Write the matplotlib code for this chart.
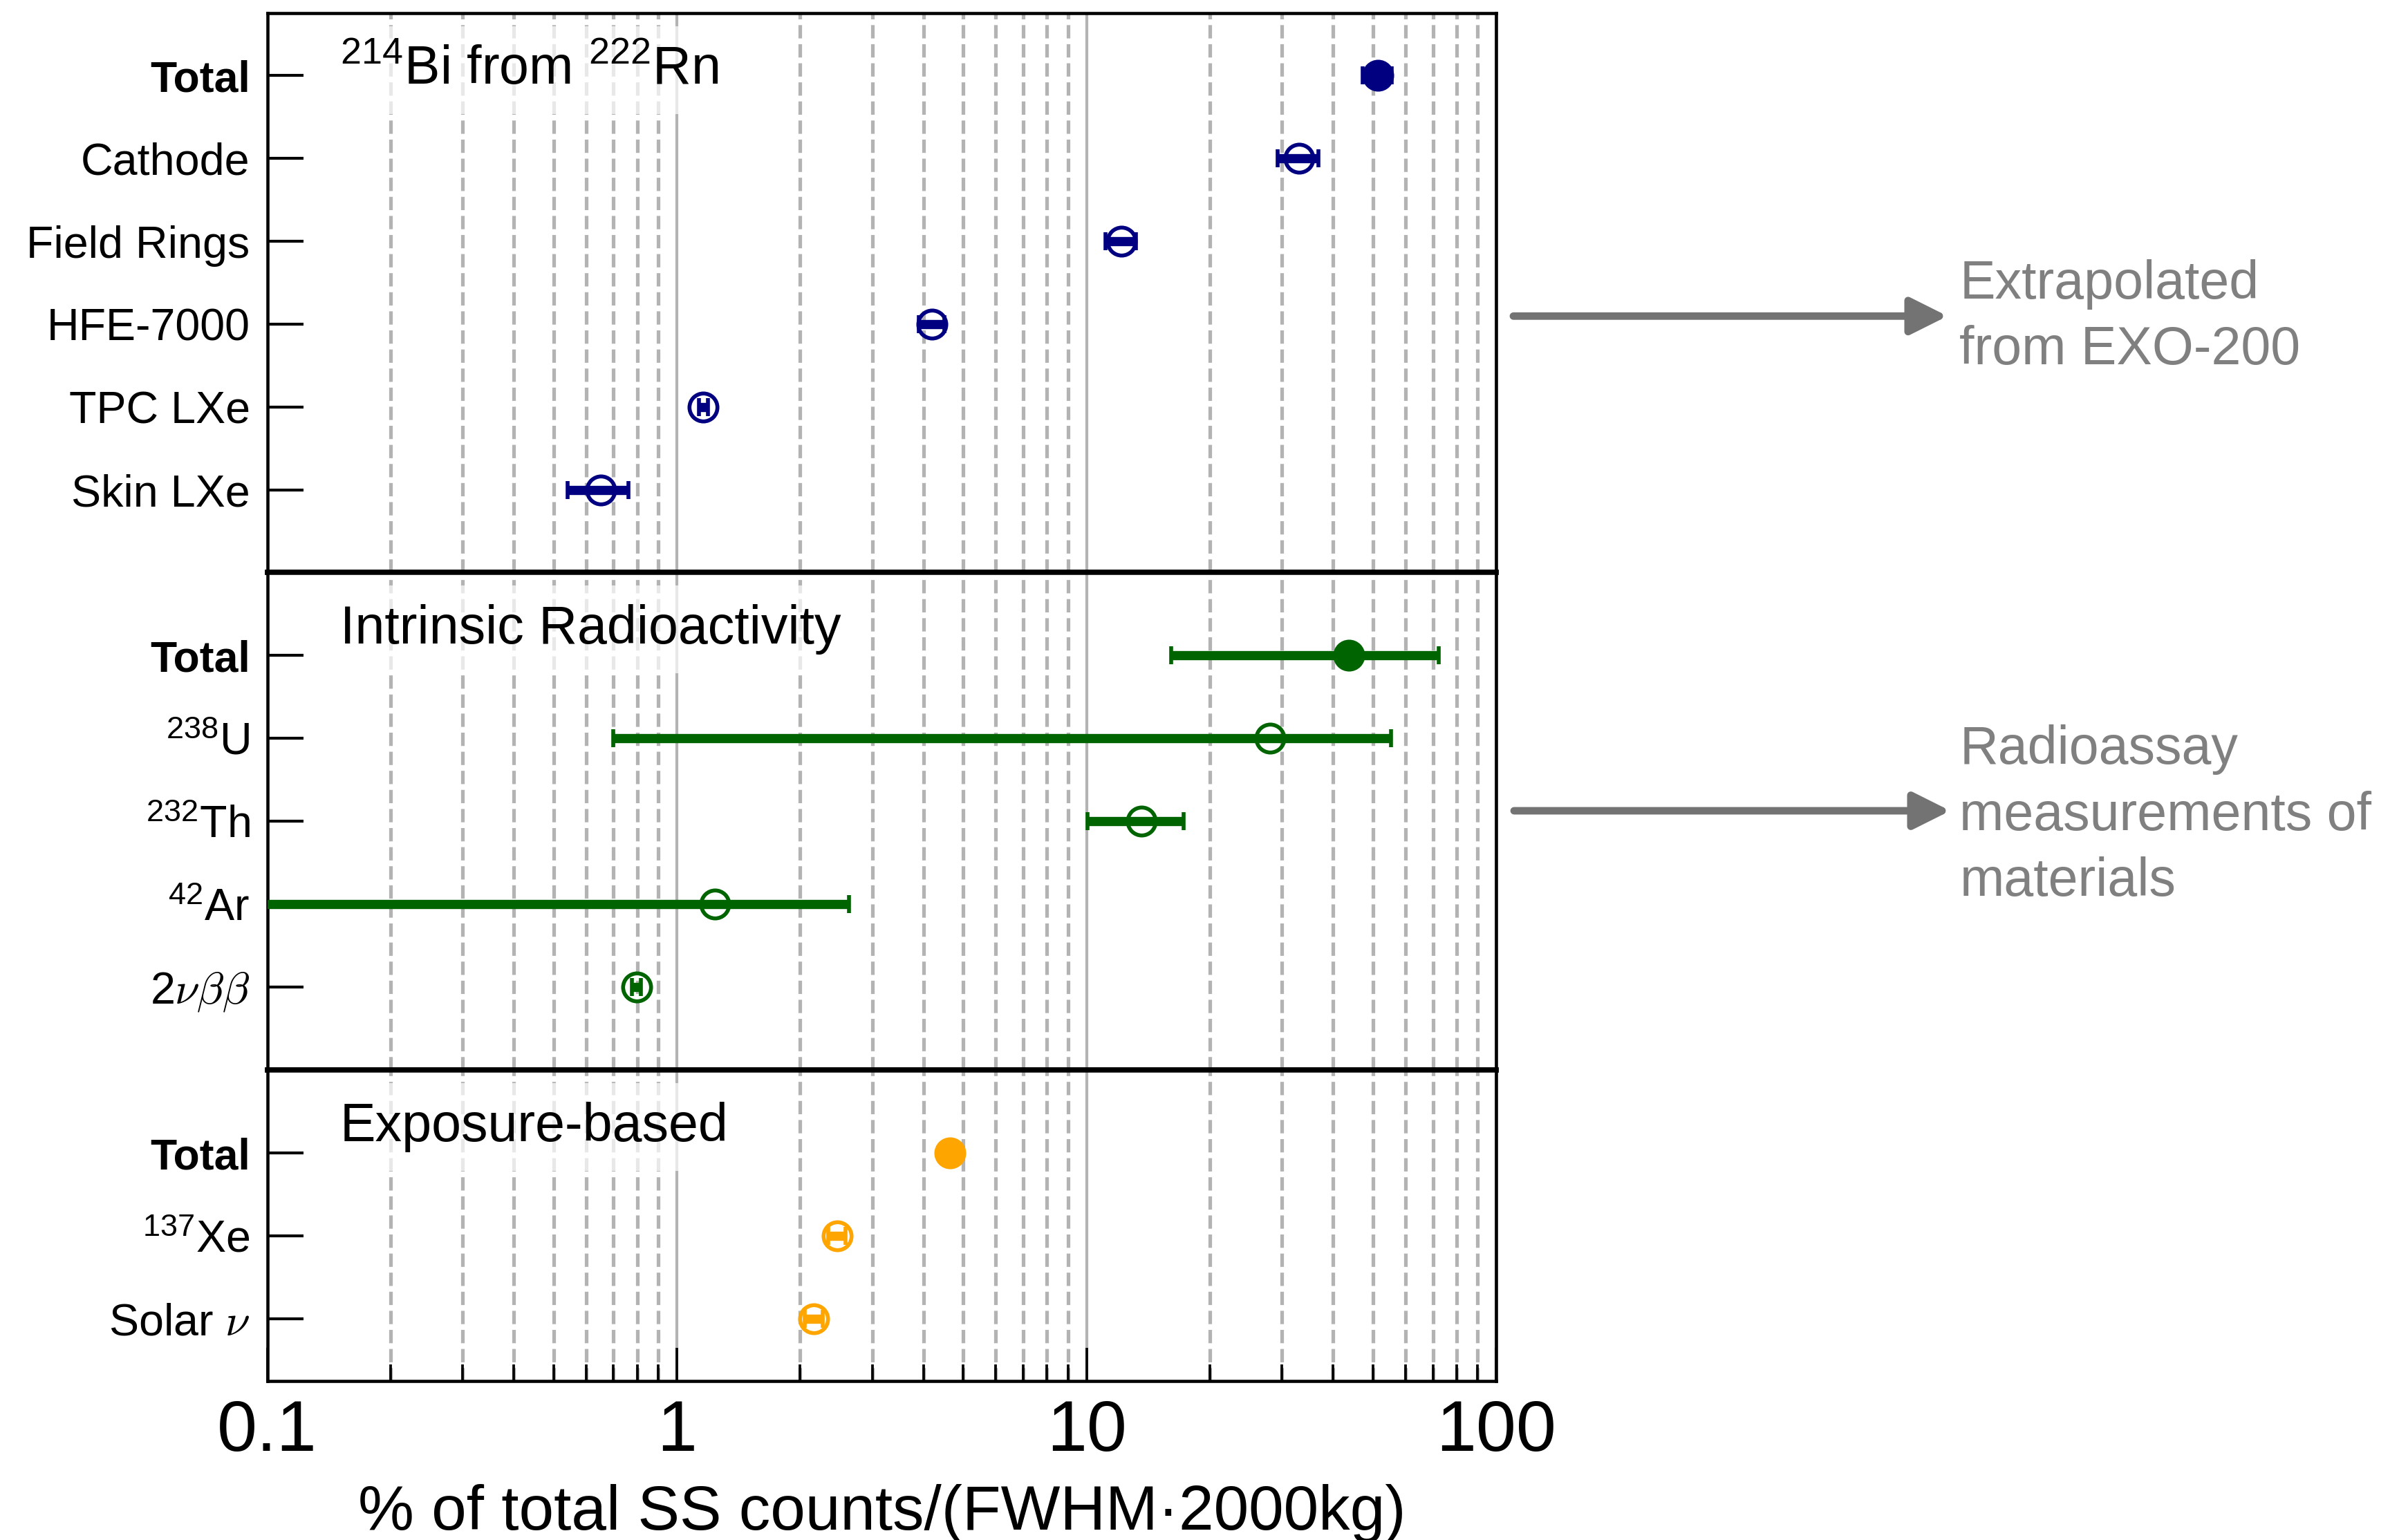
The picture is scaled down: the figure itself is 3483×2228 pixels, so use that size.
import numpy as np
import matplotlib
matplotlib.use('Agg')
import matplotlib.pyplot as plt
from matplotlib.patches import FancyArrowPatch
from matplotlib.ticker import LogLocator, NullFormatter

plt.rcParams['font.family'] = ['Liberation Sans', 'DejaVu Sans']
plt.rcParams['mathtext.fontset'] = 'custom'
plt.rcParams['mathtext.rm'] = 'Liberation Sans'
plt.rcParams['mathtext.it'] = 'Liberation Sans:italic'
plt.rcParams['mathtext.bf'] = 'Liberation Sans:bold'

# ---------------- data ----------------
rn_labels = ['Total', 'Cathode', 'Field Rings', 'HFE-7000', 'TPC LXe', 'Skin LXe']
rn_values = [51.4, 33.05, 12.16, 4.19, 1.16, 0.652]
rn_err_low = [4.2, 3.8, 1.05, 0.30, 0.03, 0.11]
rn_err_high = [4.2, 3.8, 1.05, 0.30, 0.03, 0.11]

intr_labels = ['Total', r'$^{238}$U', r'$^{232}$Th', r'$^{42}$Ar', r'2$\nu\beta\beta$']
intr_values = [43.6, 28.0, 13.6, 1.24, 0.797]
intr_err_low = [27.5, 27.3, 3.55, 1.39, 0.02]
intr_err_high = [28.8, 27.4, 3.65, 1.39, 0.02]

exp_labels = ['Total', r'$^{137}$Xe', r'Solar $\nu$']
exp_values = [4.63, 2.46, 2.16]
exp_err_low = [0.1, 0.12, 0.11]
exp_err_high = [0.1, 0.12, 0.11]

panel_titles = [r'$^{214}$Bi from $^{222}$Rn', 'Intrinsic Radioactivity', 'Exposure-based']
panel_colors = ['#000080', '#006400', '#FFA500']

xticks = [0.1, 1, 10, 100]
xticklabels = ['0.1', '1', '10', '100']
xlabel = '% of total SS counts/(FWHM\u00b72000kg)'

note_texts = ['Extrapolated\nfrom EXO-200', 'Radioassay\nmeasurements of\nmaterials']

# ---------------- figure ----------------
fig = plt.figure(figsize=(3483 / 300, 2228 / 300), dpi=300)
left, right = 386.5 / 3483, 2164.3 / 3483
top, bottom = 1 - 19.3 / 2228, 1 - 1998 / 2228
ylims = [(5.99, -0.75), (5.0, -1.0), (2.75, -1.0)]
ratios = [a - b for a, b in ylims]
gs = fig.add_gridspec(3, 1, height_ratios=ratios, hspace=0,
                      left=left, right=right, top=top, bottom=bottom)

panels = [
    (rn_labels, rn_values, rn_err_low, rn_err_high),
    (intr_labels, intr_values, intr_err_low, intr_err_high),
    (exp_labels, exp_values, exp_err_low, exp_err_high),
]

axes = []
for k, (labels, values, elo, ehi) in enumerate(panels):
    ax = fig.add_subplot(gs[k])
    axes.append(ax)
    ax.set_xscale('log')
    color = panel_colors[k]
    ypos = np.arange(len(labels))
    for i, v in enumerate(values):
        ax.errorbar(v, ypos[i], xerr=[[elo[i]], [ehi[i]]], fmt='o', color=color,
                    ms=9.7, mew=1.35, mec=color,
                    mfc=color if i == 0 else 'none',
                    elinewidth=3.2, capsize=3.1, capthick=3.0, zorder=4)
    ax.set_xlim(0.1, 100)
    ax.set_ylim(*ylims[k])
    ax.set_yticks(ypos, labels=labels)
    ax.xaxis.set_minor_locator(LogLocator(base=10, subs=np.arange(2, 10), numticks=20))
    ax.xaxis.set_minor_formatter(NullFormatter())
    ax.set_xticks(xticks, labels=xticklabels)
    ax.grid(which='minor', axis='x', ls=(0, (3.7, 1.6)), lw=1.25, color='#b3b3b3', zorder=0)
    ax.grid(which='major', axis='x', ls='-', lw=1.0, color='#b3b3b3', zorder=0)
    ax.set_axisbelow(True)
    ax.tick_params(axis='y', which='major', direction='in', length=12.5, width=1.0,
                   pad=6, labelsize=15.5, right=False, color='black')
    ax.tick_params(axis='y', which='minor', left=False, right=False)
    for sp in ax.spines.values():
        sp.set_linewidth(1.1)
    if k < 2:
        ax.tick_params(axis='x', which='both', bottom=False, top=False, labelbottom=False)
        ax.spines['bottom'].set_linewidth(1.8)
    else:
        ax.tick_params(axis='x', which='major', direction='in', length=11.5, width=0.9,
                       pad=6.2, labelsize=25, top=False)
        ax.tick_params(axis='x', which='minor', direction='in', length=5.8, width=0.9,
                       top=False)
    if k > 0:
        ax.spines['top'].set_linewidth(1.8)
    for j, lbl in enumerate(ax.get_yticklabels()):
        if j == 0:
            lbl.set_fontweight('bold')
            lbl.set_fontsize(15)
        if '\\nu' in lbl.get_text():
            lbl.set_math_fontfamily('cm')
    ax.annotate(panel_titles[k], xy=(0.0594, 1.0), xycoords='axes fraction',
                xytext=(0, -24.7), textcoords='offset points', fontsize=18.5,
                ha='left', va='baseline', zorder=3,
                bbox=dict(boxstyle='square,pad=0.35', fc='white', ec='none', alpha=0.7))

fig.text(0.3662, 0.0067, xlabel, fontsize=21.8, ha='center', va='baseline')

# ---------------- annotations ----------------
arrow_y = [1 - 457.3 / 2228, 1 - 1173 / 2228]
arrow_x0 = [2189 / 3483, 2190 / 3483]
arrow_x1 = [2817 / 3483, 2821 / 3483]
text_y = [1 - 459 / 2228, 1 - 1180 / 2228]
for n in range(2):
    arr = FancyArrowPatch((arrow_x0[n], arrow_y[n]), (arrow_x1[n], arrow_y[n]),
                          transform=fig.transFigure, arrowstyle='-|>',
                          mutation_scale=27, lw=2.6, color='#737373',
                          shrinkA=0, shrinkB=0)
    fig.add_artist(arr)
    fig.text(2834.5 / 3483, text_y[n], note_texts[n], color='#808080', fontsize=18.5,
             ha='left', va='center', linespacing=1.395,
             family=['Liberation Sans', 'DejaVu Sans'])

fig.savefig('out.png', dpi=300)
